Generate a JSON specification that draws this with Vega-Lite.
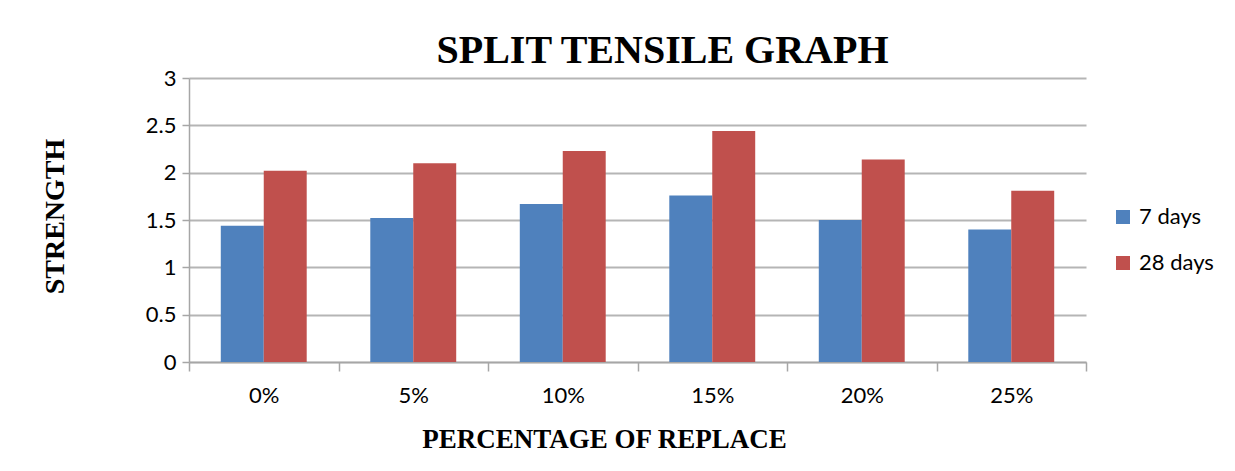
{
  "$schema": "https://vega.github.io/schema/vega-lite/v6.json",
  "autosize": {"type": "none"},
  "width": 897,
  "height": 284,
  "padding": {"left": 189, "top": 78, "right": 149, "bottom": 109},
  "background": "white",
  "title": {
    "text": "SPLIT TENSILE GRAPH",
    "font": "Liberation Serif",
    "fontSize": 40,
    "fontWeight": "bold",
    "color": "black",
    "anchor": "middle",
    "baseline": "alphabetic",
    "offset": -36,
    "dx": 25
  },
  "data": {
    "values": [
      {"pct": "0%", "series": "7 days", "strength": 1.44},
      {"pct": "0%", "series": "28 days", "strength": 2.02},
      {"pct": "5%", "series": "7 days", "strength": 1.52},
      {"pct": "5%", "series": "28 days", "strength": 2.10},
      {"pct": "10%", "series": "7 days", "strength": 1.67},
      {"pct": "10%", "series": "28 days", "strength": 2.23},
      {"pct": "15%", "series": "7 days", "strength": 1.76},
      {"pct": "15%", "series": "28 days", "strength": 2.44},
      {"pct": "20%", "series": "7 days", "strength": 1.50},
      {"pct": "20%", "series": "28 days", "strength": 2.14},
      {"pct": "25%", "series": "7 days", "strength": 1.40},
      {"pct": "25%", "series": "28 days", "strength": 1.81}
    ]
  },
  "mark": {"type": "bar"},
  "encoding": {
    "x": {
      "field": "pct",
      "type": "nominal",
      "sort": ["0%", "5%", "10%", "15%", "20%", "25%"],
      "scale": {"paddingInner": 0, "paddingOuter": 0},
      "axis": {
        "title": "PERCENTAGE OF REPLACE",
        "titleFont": "Liberation Serif",
        "titleFontSize": 27,
        "titleFontWeight": "bold",
        "titleColor": "black",
        "titleX": 415,
        "titleY": 85,
        "titleAnchor": null,
        "titleAlign": "center",
        "titleBaseline": "alphabetic",
        "labelAngle": 0,
        "labelFont": "Lato",
        "labelFontSize": 22,
        "labelColor": "black",
        "labelPadding": 14,
        "tickBand": "extent",
        "tickSize": 9,
        "tickColor": "#a6a6a6",
        "tickWidth": 1.5,
        "domainColor": "#a6a6a6",
        "domainWidth": 1.5,
        "grid": false
      }
    },
    "xOffset": {
      "field": "series",
      "type": "nominal",
      "sort": ["7 days", "28 days"],
      "scale": {"paddingInner": 0, "paddingOuter": 0.74}
    },
    "y": {
      "field": "strength",
      "type": "quantitative",
      "scale": {"domain": [0, 3]},
      "axis": {
        "title": "STRENGTH",
        "titleFont": "Liberation Serif",
        "titleFontSize": 28,
        "titleFontWeight": "bold",
        "titleColor": "black",
        "titleAngle": -90,
        "titleX": -126,
        "titleY": 138,
        "titleAnchor": null,
        "titleAlign": "center",
        "titleBaseline": "alphabetic",
        "values": [0, 0.5, 1, 1.5, 2, 2.5, 3],
        "format": "~g",
        "labelFont": "Lato",
        "labelFontSize": 22,
        "labelColor": "black",
        "labelPadding": 6,
        "tickSize": 7,
        "tickColor": "#a6a6a6",
        "tickWidth": 1.5,
        "domainColor": "#a6a6a6",
        "domainWidth": 1.5,
        "grid": true,
        "gridColor": "#b5b5b5",
        "gridWidth": 2
      }
    },
    "color": {
      "field": "series",
      "type": "nominal",
      "sort": ["7 days", "28 days"],
      "scale": {"domain": ["7 days", "28 days"], "range": ["#4F81BD", "#C0504D"]},
      "legend": {
        "title": null,
        "orient": "none",
        "legendX": 923,
        "legendY": 128,
        "symbolType": "square",
        "symbolSize": 196,
        "symbolStrokeWidth": 0,
        "labelFont": "Lato",
        "labelFontSize": 22,
        "labelColor": "black",
        "labelOffset": 5,
        "rowPadding": 24
      }
    }
  },
  "config": {"view": {"stroke": null}}
}
